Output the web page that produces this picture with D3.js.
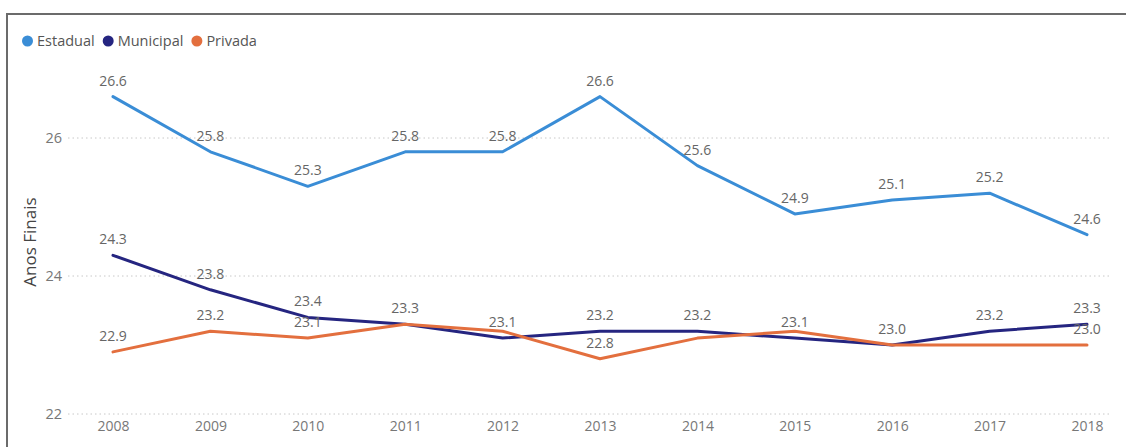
<!DOCTYPE html>
<html>
<head>
<meta charset="utf-8">
<script src="https://cdn.jsdelivr.net/npm/d3@7"></script>
<style>
  html, body { margin: 0; padding: 0; background: #fff; }
  svg { display: block; font-family: "Open Sans", "Noto Sans", sans-serif; }
</style>
</head>
<body>
<svg id="chart" width="1126" height="447"></svg>
<script>
// Anos Finais by network, 2008–2018
const years = ["2008","2009","2010","2011","2012","2013","2014","2015","2016","2017","2018"];
const estadual  = [26.6, 25.8, 25.3, 25.8, 25.8, 26.6, 25.6, 24.9, 25.1, 25.2, 24.6];
const municipal = [24.3, 23.8, 23.4, 23.3, 23.1, 23.2, 23.2, 23.1, 23.0, 23.2, 23.3];
const privada   = [22.9, 23.2, 23.1, 23.3, 23.2, 22.8, 23.1, 23.2, 23.0, 23.0, 23.0];
const seriesNames = ["Estadual", "Municipal", "Privada"];
const yTicks = [22, 24, 26];
const yTitle = "Anos Finais";

const colors = ["#3a8dd6", "#252580", "#e36f3e"];
const seriesValues = [estadual, municipal, privada];

const svg = d3.select("#chart");

// frame
svg.append("path")
  .attr("d", "M7,447 L7,14 L1126,14")
  .attr("fill", "none").attr("stroke", "#6b6b6b").attr("stroke-width", 2);

const x = d3.scalePoint().domain(years).range([113, 1087]);
const y = d3.scaleLinear().domain([22, 26]).range([414, 138]);

// gridlines
svg.append("g").selectAll("line").data(yTicks).join("line")
  .attr("x1", 68).attr("x2", 1112)
  .attr("y1", d => y(d)).attr("y2", d => y(d))
  .attr("stroke", "#c8c8c8").attr("stroke-width", 1)
  .attr("stroke-dasharray", "1.5,3");

// y axis labels
const yAxis = d3.axisLeft(y).tickValues(yTicks).tickSize(0).tickPadding(0).tickFormat(d3.format("d"));
const yg = svg.append("g").attr("transform", "translate(62,0)").call(yAxis);
yg.select(".domain").remove();
yg.selectAll("text").attr("fill", "#777").style("font-size", "14.5px")
  .style("font-family", "'Open Sans', sans-serif");

// x axis labels
const xAxis = d3.axisBottom(x).tickSize(0).tickPadding(0);
const xg = svg.append("g").attr("transform", "translate(0,421)").call(xAxis);
xg.select(".domain").remove();
xg.selectAll("text").attr("fill", "#777").style("font-size", "14px")
  .style("font-family", "'Open Sans', sans-serif");

// y title
svg.append("text")
  .attr("transform", "translate(36,242) rotate(-90)")
  .attr("text-anchor", "middle")
  .attr("fill", "#444").style("font-size", "17px")
  .text(yTitle);

// lines
const line = d3.line().x((d, i) => x(years[i])).y(d => y(d));
seriesValues.forEach((vals, s) => {
  svg.append("path")
    .datum(vals)
    .attr("d", line)
    .attr("fill", "none")
    .attr("stroke", colors[s])
    .attr("stroke-width", 3)
    .attr("stroke-linejoin", "round")
    .attr("stroke-linecap", "round");
});

// data labels, skipping any that would collide with one already placed
const placed = [];
const labelG = svg.append("g");
seriesValues.forEach((vals, s) => {
  vals.forEach((v, i) => {
    const t = labelG.append("text")
      .attr("x", x(years[i]))
      .attr("y", y(v) - 11)
      .attr("text-anchor", "middle")
      .attr("fill", "#666")
      .style("font-size", "14px")
      .text(d3.format(".1f")(v));
    const b = t.node().getBBox();
    const box = { x0: b.x, x1: b.x + b.width, y0: b.y + 1, y1: b.y + b.height - 1 };
    const hit = placed.some(p => box.x0 < p.x1 && box.x1 > p.x0 && box.y0 < p.y1 && box.y1 > p.y0);
    if (hit) t.remove(); else placed.push(box);
  });
});

// legend
let lx = 22;
const legend = svg.append("g");
seriesNames.forEach((name, s) => {
  legend.append("circle").attr("cx", lx + 5.5).attr("cy", 41).attr("r", 5.5).attr("fill", colors[s]);
  const t = legend.append("text").attr("x", lx + 15).attr("y", 46)
    .attr("fill", "#555").style("font-size", "14.5px").text(name);
  lx += 15 + t.node().getComputedTextLength() + 8;
});
</script>
</body>
</html>
